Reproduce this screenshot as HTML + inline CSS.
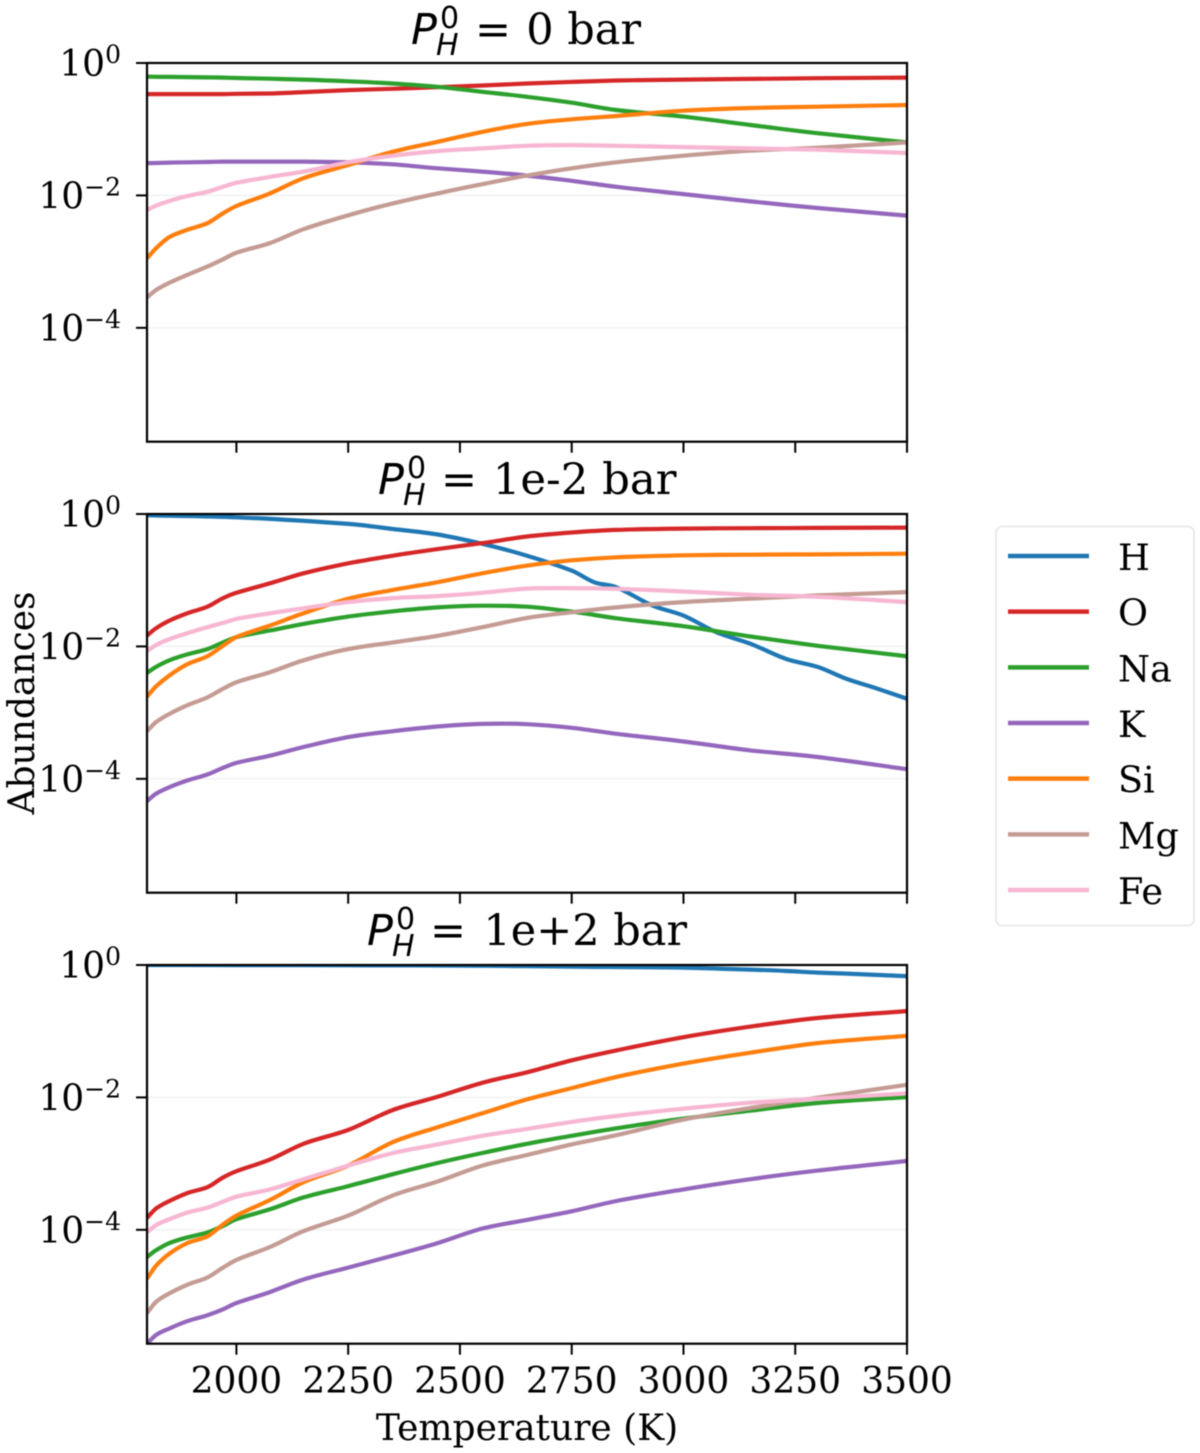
<!DOCTYPE html>
<html lang="en">
<head>
<meta charset="utf-8">
<title>Abundances vs Temperature</title>
<style>
html,body{margin:0;padding:0;background:#fff;}
#chart{display:block;width:1200px;height:1453px;filter:blur(0.45px);}
text{fill:#000;font-family:"DejaVu Serif","Liberation Serif",serif;}
.math{font-family:"DejaVu Sans","Liberation Sans",sans-serif;}
</style>
</head>
<body>
<svg id="chart" xmlns="http://www.w3.org/2000/svg" width="1200" height="1453" viewBox="0 0 1200 1453">
  <rect x="0" y="0" width="1200" height="1453" fill="#fff"/>
  <g id="plots"></g>

  <g>
    <text class="math" x="411" y="44" font-size="43" font-style="italic">P</text>
    <text class="math" x="440" y="28" font-size="30">0</text>
    <text class="math" x="436" y="55" font-size="30" font-style="italic">H</text>
    <text class="math" x="475" y="44" font-size="43">=</text>
    <text x="641" y="44" font-size="43" text-anchor="end">0 bar</text>
  </g>
  <g>
    <text class="math" x="378" y="494" font-size="43" font-style="italic">P</text>
    <text class="math" x="407" y="478" font-size="30">0</text>
    <text class="math" x="403" y="505" font-size="30" font-style="italic">H</text>
    <text class="math" x="441" y="494" font-size="43">=</text>
    <text x="676.5" y="494" font-size="43.4" text-anchor="end">1e-2 bar</text>
  </g>
  <g>
    <text class="math" x="367" y="945" font-size="43" font-style="italic">P</text>
    <text class="math" x="396" y="929" font-size="30">0</text>
    <text class="math" x="392" y="956" font-size="30" font-style="italic">H</text>
    <text class="math" x="430" y="945" font-size="43">=</text>
    <text x="687" y="945" font-size="43" text-anchor="end">1e+2 bar</text>
  </g>

  <text font-size="36" text-anchor="middle" transform="translate(34 703) rotate(-90)">Abundances</text>
  <text font-size="36" text-anchor="middle" x="527" y="1440">Temperature (K)</text>

  <g id="legend">
    <rect x="996" y="526.5" width="198" height="399" rx="6" ry="6" fill="#fff" stroke="#e6e6e6" stroke-width="1.6"/>
  </g>
</svg>

<script>
// Shared temperature grids (K)
const temperatures = [1800,1820,1850,1890,1935,1970,2000,2075,2150,2250,2350,2450,2550,2650,2750,2850,3000,3150,3300,3500];
const hTemperatures = [1800,2000,2250,2350,2450,2550,2650,2750,2800,2850,2930,3000,3075,3150,3230,3300,3365,3430,3500];

// Tick labels
const xTicks = [2000,2250,2500,2750,3000,3250,3500];
const yTickExponents = [0,-2,-4];

// Species
const species = ['H','O','Na','K','Si','Mg','Fe'];
const speciesColors = ['#1f77b4','#d62728','#2ca02c','#9467bd','#ff7f0e','#c49c94','#f7b6d2'];

// Panel 1: P = 0 bar (log10 abundance)
const p1_O  = [-.47,-.47,-.47,-.47,-.47,-.47,-.465,-.46,-.44,-.41,-.39,-.365,-.34,-.31,-.285,-.265,-.25,-.24,-.23,-.22];
const p1_Na = [-.206,-.208,-.21,-.213,-.217,-.221,-.226,-.237,-.25,-.276,-.31,-.36,-.435,-.51,-.60,-.71,-.81,-.936,-1.06,-1.20];
const p1_K  = [-1.513,-1.51,-1.505,-1.5,-1.495,-1.49,-1.49,-1.49,-1.49,-1.50,-1.53,-1.59,-1.64,-1.70,-1.78,-1.87,-1.98,-2.09,-2.19,-2.305];
const p1_Si = [-2.95,-2.80,-2.63,-2.52,-2.42,-2.27,-2.16,-1.97,-1.74,-1.54,-1.34,-1.19,-1.04,-.92,-.85,-.80,-.72,-.68,-.66,-.635];
const p1_Mg = [-3.54,-3.43,-3.32,-3.20,-3.075,-2.965,-2.865,-2.72,-2.51,-2.30,-2.12,-1.97,-1.83,-1.70,-1.59,-1.50,-1.40,-1.325,-1.28,-1.20];
const p1_Fe = [-2.22,-2.155,-2.085,-2.01,-1.945,-1.87,-1.81,-1.72,-1.64,-1.50,-1.40,-1.33,-1.29,-1.25,-1.24,-1.25,-1.27,-1.29,-1.31,-1.36];

// Panel 2: P = 1e-2 bar (log10 abundance)
const p2_H  = [-.02,-.05,-.15,-.226,-.31,-.45,-.63,-.855,-1.03,-1.107,-1.38,-1.535,-1.79,-1.96,-2.19,-2.31,-2.49,-2.63,-2.79];
const p2_O  = [-1.836,-1.726,-1.61,-1.50,-1.40,-1.27,-1.19,-1.047,-.896,-.745,-.63,-.53,-.44,-.34,-.28,-.24,-.22,-.215,-.21,-.205];
const p2_Na = [-2.40,-2.31,-2.21,-2.12,-2.04,-1.94,-1.86,-1.76,-1.66,-1.55,-1.47,-1.41,-1.385,-1.40,-1.474,-1.575,-1.695,-1.85,-1.99,-2.15];
const p2_K  = [-4.337,-4.226,-4.126,-4.025,-3.935,-3.834,-3.76,-3.65,-3.52,-3.37,-3.28,-3.21,-3.17,-3.175,-3.23,-3.32,-3.436,-3.57,-3.67,-3.854];
const p2_Si = [-2.757,-2.606,-2.44,-2.27,-2.15,-1.99,-1.86,-1.685,-1.50,-1.28,-1.147,-1.03,-.895,-.78,-.70,-.654,-.624,-.614,-.61,-.60];
const p2_Mg = [-3.28,-3.145,-3.02,-2.89,-2.77,-2.64,-2.54,-2.39,-2.21,-2.04,-1.94,-1.84,-1.71,-1.57,-1.484,-1.41,-1.33,-1.28,-1.23,-1.18];
const p2_Fe = [-2.07,-1.98,-1.89,-1.80,-1.71,-1.645,-1.585,-1.50,-1.424,-1.33,-1.27,-1.24,-1.19,-1.127,-1.12,-1.13,-1.17,-1.22,-1.25,-1.33];

// Panel 3: P = 1e+2 bar (log10 abundance)
const p3_H  = [0,-.002,-.004,-.006,-.008,-.012,-.018,-.025,-.028,-.03,-.035,-.04,-.055,-.07,-.09,-.115,-.13,-.15,-.168];
const p3_O  = [-3.82,-3.68,-3.565,-3.445,-3.356,-3.21,-3.115,-2.94,-2.70,-2.49,-2.19,-1.99,-1.78,-1.62,-1.44,-1.29,-1.09,-.93,-.80,-.696];
const p3_Na = [-4.41,-4.31,-4.20,-4.115,-4.04,-3.94,-3.84,-3.69,-3.51,-3.34,-3.16,-2.99,-2.84,-2.70,-2.58,-2.466,-2.32,-2.20,-2.084,-1.995];
const p3_K  = [-5.72,-5.59,-5.49,-5.38,-5.29,-5.20,-5.105,-4.94,-4.75,-4.57,-4.39,-4.20,-3.98,-3.85,-3.72,-3.565,-3.39,-3.235,-3.105,-2.96];
const p3_Si = [-4.74,-4.545,-4.36,-4.20,-4.10,-3.92,-3.785,-3.55,-3.28,-3.03,-2.675,-2.45,-2.24,-2.03,-1.86,-1.69,-1.49,-1.325,-1.18,-1.07];
const p3_Mg = [-5.26,-5.09,-4.96,-4.83,-4.72,-4.57,-4.455,-4.26,-4.02,-3.785,-3.48,-3.27,-3.03,-2.87,-2.71,-2.57,-2.335,-2.16,-2.005,-1.81];
const p3_Fe = [-4.04,-3.93,-3.84,-3.74,-3.665,-3.575,-3.50,-3.39,-3.235,-3.03,-2.84,-2.71,-2.58,-2.476,-2.37,-2.28,-2.17,-2.08,-2.02,-1.94];

const panelSeries = [
  [null, p1_O, p1_Na, p1_K, p1_Si, p1_Mg, p1_Fe],
  [p2_H, p2_O, p2_Na, p2_K, p2_Si, p2_Mg, p2_Fe],
  [p3_H, p3_O, p3_Na, p3_K, p3_Si, p3_Mg, p3_Fe]
];

const NS = 'http://www.w3.org/2000/svg';
const AX_LEFT = 147, AX_RIGHT = 907, AX_H = 378.7;
const PANEL_TOPS = [63, 514, 965];
const T_MIN = 1800, T_MAX = 3500, LOG_MIN = -5.72;

function xScale(t) { return AX_LEFT + (t - T_MIN) / (T_MAX - T_MIN) * (AX_RIGHT - AX_LEFT); }
function yScale(v, top) { return top + (0 - v) / (0 - LOG_MIN) * AX_H; }

function svgEl(tag, attrs, parent) {
  const el = document.createElementNS(NS, tag);
  for (const k in attrs) el.setAttribute(k, attrs[k]);
  parent.appendChild(el);
  return el;
}

// Smooth path through the points (Hermite tangents on a non-uniform grid)
function smoothPath(xs, ys) {
  const n = xs.length;
  const m = [];
  for (let i = 0; i < n; i++) {
    const a = Math.max(0, i - 1), b = Math.min(n - 1, i + 1);
    m.push((ys[b] - ys[a]) / (xs[b] - xs[a]));
  }
  let d = 'M' + xs[0].toFixed(1) + ' ' + ys[0].toFixed(1);
  for (let i = 0; i < n - 1; i++) {
    const h = (xs[i + 1] - xs[i]) / 3;
    d += 'C' + (xs[i] + h).toFixed(1) + ' ' + (ys[i] + m[i] * h).toFixed(1) + ' ' +
         (xs[i + 1] - h).toFixed(1) + ' ' + (ys[i + 1] - m[i + 1] * h).toFixed(1) + ' ' +
         xs[i + 1].toFixed(1) + ' ' + ys[i + 1].toFixed(1);
  }
  return d;
}

const plots = document.getElementById('plots');
const defs = svgEl('defs', {}, plots);

PANEL_TOPS.forEach(function (top, p) {
  const bottom = top + AX_H;
  const g = svgEl('g', {}, plots);
  
  

  const clip = svgEl('clipPath', { id: 'clip' + p }, defs);
  svgEl('rect', { x: AX_LEFT, y: top, width: AX_RIGHT - AX_LEFT, height: AX_H }, clip);

  // grid lines
  yTickExponents.forEach(function (e) {
    if (e === 0) return;
    const grid = svgEl('line', { x1: AX_LEFT, x2: AX_RIGHT, y1: yScale(e, top), y2: yScale(e, top), stroke: '#eeeeee', 'stroke-width': 1.2 }, g);
    
    
  });

  // series
  panelSeries[p].forEach(function (vals, s) {
    if (!vals) return;
    const ts = s === 0 ? hTemperatures : temperatures;
    const d = smoothPath(ts.map(xScale), vals.map(function (v) { return yScale(v, top); }));
    const line = svgEl('path', { d: d, fill: 'none', stroke: speciesColors[s], 'stroke-width': 4.2, 'stroke-linejoin': 'round', 'clip-path': 'url(#clip' + p + ')' }, g);
    
    
  });

  // spines
  const frame = svgEl('rect', { x: AX_LEFT, y: top, width: AX_RIGHT - AX_LEFT, height: AX_H, fill: 'none', stroke: '#000', 'stroke-width': 2.2 }, g);
  
  

  // x ticks
  xTicks.forEach(function (t) {
    const tick = svgEl('line', { x1: xScale(t), x2: xScale(t), y1: bottom, y2: bottom + 11, stroke: '#000', 'stroke-width': 2 }, g);
    
    
    if (p === 2) {
      const lab = svgEl('text', { x: xScale(t), y: 1393, 'font-size': 36, 'text-anchor': 'middle' }, g);
      
      
      lab.textContent = String(t);
    }
  });

  // y ticks
  yTickExponents.forEach(function (e) {
    const y = yScale(e, top);
    const tick = svgEl('line', { x1: AX_LEFT - 11, x2: AX_LEFT, y1: y, y2: y, stroke: '#000', 'stroke-width': 2 }, g);
    
    
    const lab = svgEl('text', { x: 121, y: y + 13, 'font-size': 36, 'text-anchor': 'end' }, g);
    
    
    lab.appendChild(document.createTextNode('10'));
    const sup = svgEl('tspan', { dy: -13, 'font-size': 25 }, lab);
    sup.textContent = e < 0 ? '\u2212' + Math.abs(e) : String(e);
  });
});

// legend
const legend = document.getElementById('legend');
species.forEach(function (name, i) {
  const y = 556 + i * 55.67;
  const entry = svgEl('g', {}, legend);
  
  
  svgEl('line', { x1: 1008, x2: 1089, y1: y, y2: y, stroke: speciesColors[i], 'stroke-width': 4.5 }, entry);
  const t = svgEl('text', { x: 1118, y: y + 14, 'font-size': 36.6 }, entry);
  t.textContent = name;
});
</script>
</body>
</html>
